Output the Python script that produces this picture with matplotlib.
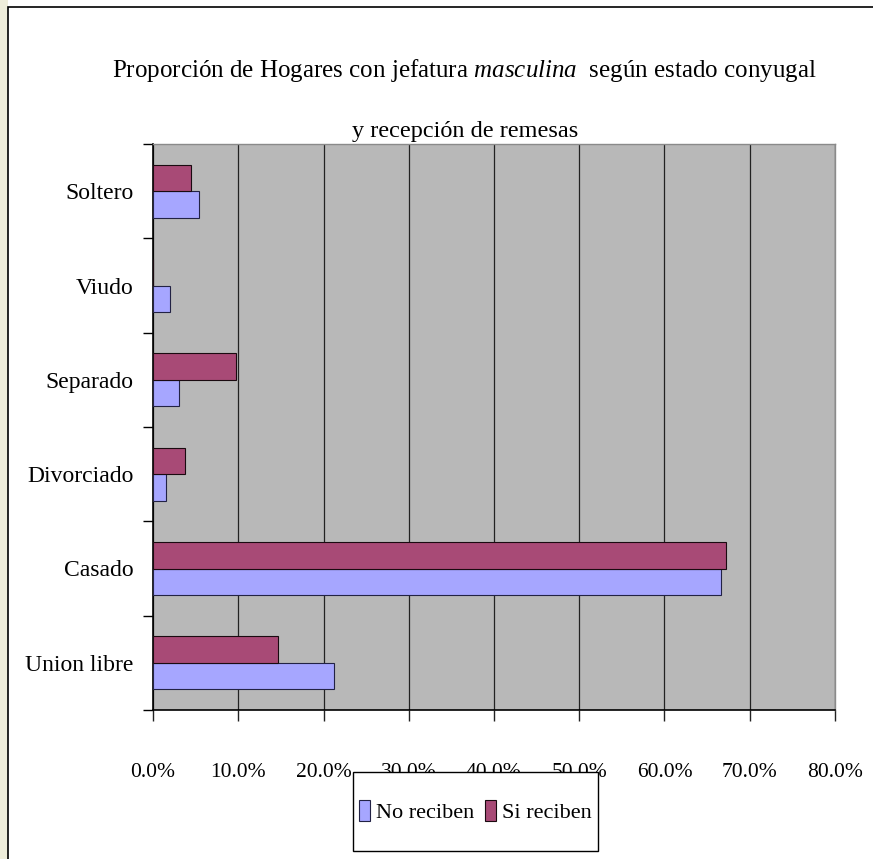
import matplotlib
matplotlib.use('Agg')
import matplotlib.pyplot as plt
import numpy as np
from matplotlib.patches import Rectangle

plt.rcParams['font.family'] = ['Liberation Serif', 'DejaVu Serif']
plt.rcParams['mathtext.fontset'] = 'custom'
plt.rcParams['mathtext.rm'] = 'Liberation Serif'
plt.rcParams['mathtext.it'] = 'Liberation Serif:italic'

categories = ['Union libre', 'Casado', 'Divorciado', 'Separado', 'Viudo', 'Soltero']
no_reciben = [21.2, 66.6, 1.5, 3.0, 2.0, 5.4]
si_reciben = [14.7, 67.2, 3.7, 9.7, 0.0, 4.5]
xticks = [0, 10, 20, 30, 40, 50, 60, 70, 80]

W, H = 873, 859
fig = plt.figure(figsize=(W / 100, H / 100), dpi=100)
fig.patch.set_facecolor('white')

# slide background strip on the left and chart border
fig.patches.append(Rectangle((0, 0), 8 / W, 1, transform=fig.transFigure,
                             facecolor='#eeedda', edgecolor='none', zorder=-2))
fig.patches.append(Rectangle((8 / W, -0.01), 1, 1 - 7 / H + 0.01,
                             transform=fig.transFigure, facecolor='white',
                             edgecolor='black', linewidth=1.2, zorder=-1))

ax = fig.add_axes([153 / W, 1 - 710 / H, 682 / W, 566 / H])
ax.set_facecolor('#b8b8b8')

y = np.arange(len(categories))
h = 0.28
ax.barh(y - h / 2, no_reciben, height=h, color='#a6a6ff', edgecolor='#222244',
        linewidth=0.8, label='No reciben', zorder=3)
ax.barh(y + h / 2, si_reciben, height=h, color='#a84a76', edgecolor='#1a0a10',
        linewidth=0.8, label='Si reciben', zorder=3)

ax.set_xlim(0, 80)
ax.set_ylim(-0.5, len(categories) - 0.5)
ax.set_xticks(xticks)
ax.set_xticklabels(['{:.1f}%'.format(v) for v in xticks], fontsize=15.5)
ax.set_yticks(y)
ax.set_yticklabels(categories, fontsize=17)
ax.set_yticks(np.arange(-0.5, len(categories), 1), minor=True)
ax.tick_params(axis='y', which='major', length=0, pad=14)
ax.tick_params(axis='y', which='minor', length=7, width=1, color='black', direction='out')
ax.tick_params(axis='x', length=8, width=1, color='#222222', direction='out', pad=30)

ax.grid(axis='x', color='#222222', linewidth=0.9, zorder=1)
ax.set_axisbelow(True)
for side in ['left', 'bottom']:
    ax.spines[side].set_color('black')
    ax.spines[side].set_linewidth(1.2)
for side in ['top', 'right']:
    ax.spines[side].set_color('#8a8a8a')
    ax.spines[side].set_linewidth(1.0)

fig.text(464 / W, 1 - 77 / H,
         r'Proporción de Hogares con jefatura $\mathit{masculina}$  según estado conyugal',
         ha='center', va='baseline', fontsize=18)
fig.text(465 / W, 1 - 137 / H, 'y recepción de remesas',
         ha='center', va='baseline', fontsize=17.5)

# legend box drawn over the tick labels, as in the original
fig.patches.append(Rectangle((353 / W, 1 - 851 / H), 245 / W, 79 / H,
                             transform=fig.transFigure, facecolor='white',
                             edgecolor='black', linewidth=1.0, zorder=4))
leg = fig.legend(loc='center', bbox_to_anchor=(475.5 / W, 1 - 811.5 / H), ncol=2,
                 fontsize=16, frameon=False, handlelength=0.5, handleheight=1.1,
                 handletextpad=0.27, columnspacing=0.5, borderpad=0, borderaxespad=0)
leg.set_zorder(5)

fig.savefig('out.png', dpi=100)
